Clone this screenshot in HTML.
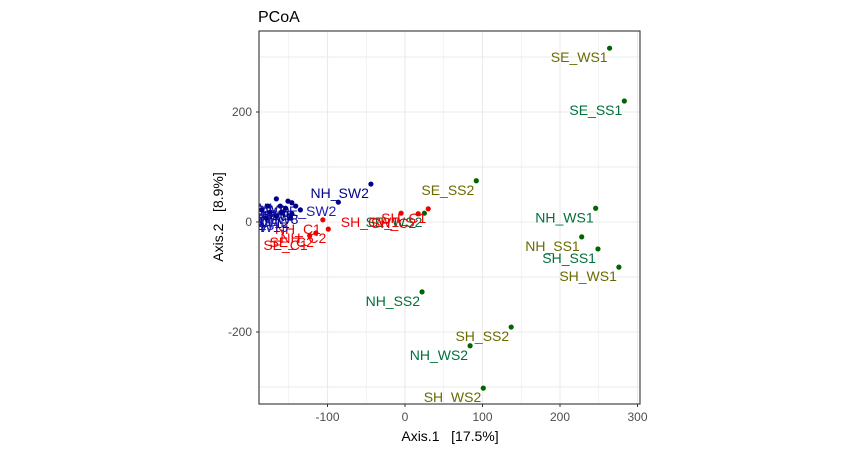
<!DOCTYPE html>
<html><head><meta charset="utf-8"><style>
body{margin:0;background:#fff;}
svg{font-family:"Liberation Sans",Arial,sans-serif;}
text{white-space:pre;}
</style></head><body>
<svg width="850" height="450">
<text x="258" y="22" font-size="16" fill="#000">PCoA</text>
<defs><clipPath id="pc"><rect x="259" y="31" width="381" height="373"/></clipPath></defs>
<g id="grid"></g>
<g id="marks" clip-path="url(#pc)"></g>
<rect x="259" y="31" width="381" height="373" fill="none" stroke="#333" stroke-width="1.1"/>
<g id="axes"></g>
<text x="450" y="441" font-size="14" text-anchor="middle" fill="#000">Axis.1&#160;&#160;&#160;[17.5%]</text>
<text transform="translate(223,217) rotate(-90)" font-size="14" text-anchor="middle" fill="#000">Axis.2&#160;&#160;&#160;[8.9%]</text>
</svg>
<script>
const labels=["SE_WS1","SE_SS1","SE_SS2","NH_WS1","NH_SS1","SH_SS1","SH_WS1","NH_SS2","SH_SS2","NH_WS2","SH_WS2","SE_WS2",
"NH_SW2","SE_SW2","NH_C1","NH_C2","SE_C2","SE_C1","SH_CW1","SH_C2","SH_C1",
"B1","B2","B3","B4","B5","B6","B7","B8","B9","B10","B11","B12","B13","B14","B15"];
const xs=[264,283,92,246,228,249,276,22,137,84,101,25,
-44,-86,-106,-99,-115,-123,-5,17,30,
-166,-151,-146,-177,-161,-141,-154,-135,-185,-174,-159,-146,-166,-179,-148];
const ys=[316,220,75,25,-27,-49,-82,-127,-191,-225,-302,16,
69,36,4,-13,-20,-25,16,15,24,
42,38,35,29,29,29,25,22,22,18,18,15,11,7,7];
const groups=["g","g","g","g","g","g","g","g","g","g","g","g",
"b","b","r","r","r","r","r","r","r",
"b","b","b","b","b","b","b","b","b","b","b","b","b","b","b"];
const xTicks=[-100,0,100,200,300];
const yTicks=[-200,0,200];
const X=v=>405+v*0.775, Y=v=>222-v*0.55;
const NS="http://www.w3.org/2000/svg";
function mk(t,a,p){const e=document.createElementNS(NS,t);for(const k in a)e.setAttribute(k,a[k]);p.appendChild(e);return e;}
const grid=document.getElementById('grid'),marks=document.getElementById('marks'),axes=document.getElementById('axes');
for(let v=-150;v<=300;v+=50){const l=mk('line',{x1:X(v),x2:X(v),y1:31,y2:404,stroke:'#ebebeb','stroke-width':v%100===0?1.1:0.6},grid);
}
for(let v=-300;v<=300;v+=100){const l=mk('line',{x1:259,x2:640,y1:Y(v),y2:Y(v),stroke:'#ebebeb','stroke-width':1.1},grid);
}
xTicks.forEach(v=>{const t=mk('line',{x1:X(v),x2:X(v),y1:404,y2:407,stroke:'#333'},axes);

const s=mk('text',{x:X(v),y:421,'font-size':12,'text-anchor':'middle',fill:'#4d4d4d'},axes);s.textContent=v;
});
yTicks.forEach(v=>{const t=mk('line',{x1:256,x2:259,y1:Y(v),y2:Y(v),stroke:'#333'},axes);

const s=mk('text',{x:252,y:Y(v)+4,'font-size':12,'text-anchor':'end',fill:'#4d4d4d'},axes);s.textContent=v;
});
const pc={g:'#006400',b:'#00008b',r:'#ee0000'};
const lc={g:['#6b6b00','#00703a'],b:['#00008b','#1c1cb0'],r:['#ee0000','#ee0000']};
labels.forEach((n,i)=>{const g=groups[i];
const c=mk('circle',{cx:X(xs[i]),cy:Y(ys[i]),r:2.6,fill:pc[g]},marks);

const tx=n.startsWith('B')?(n.replace('B','NH_SW')):n;
const t=mk('text',{x:X(xs[i])-2,y:Y(ys[i])+14,'font-size':14,'text-anchor':'end',fill:lc[g][i%2]},marks);t.textContent=tx;
});
</script>
</body></html>
